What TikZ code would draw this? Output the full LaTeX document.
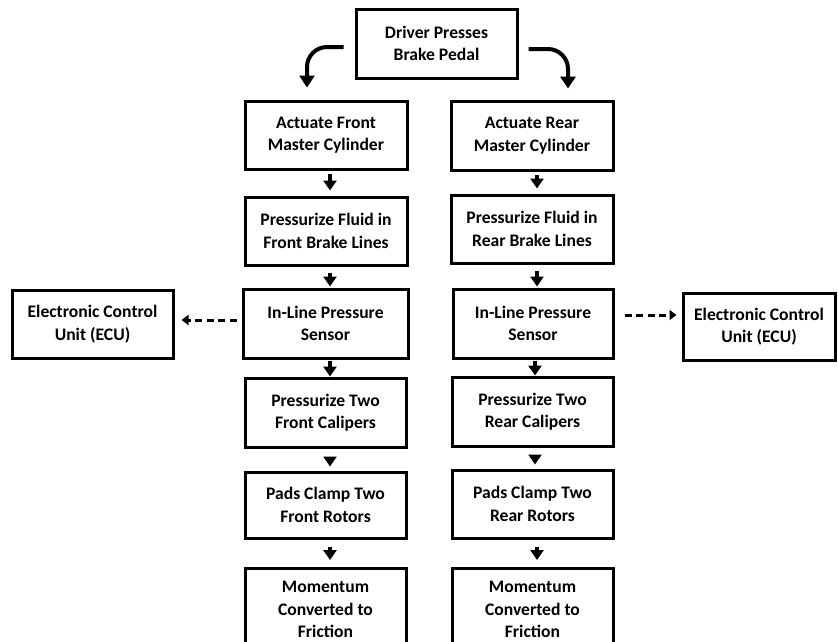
\documentclass[tikz,border=0pt]{standalone}
\usepackage{fontspec}
\setmainfont{Carlito}
\usetikzlibrary{arrows.meta}
\tikzset{
  box/.style={draw, line width=3pt, align=center, inner sep=0pt, font=\bfseries\fontsize{17.6}{22.5}\selectfont},
  varr/.style={line width=3.2pt, -{Triangle[width=13pt,length=10pt]}},
  carr/.style={line width=4pt, rounded corners=20pt, -{Triangle[width=15pt,length=12pt]}},
  darr/.style={line width=3pt, dash pattern=on 7pt off 4.5pt, -{Triangle[width=10pt,length=7pt]}},
}
\begin{document}
\begin{tikzpicture}[x=1pt,y=-1pt]
\path[use as bounding box, clip] (0,0) rectangle (838,641);
\fill[white] (0,0) rectangle (838,641);
% top
\node[box, minimum width=161pt, minimum height=69pt] (top) at (436.5,43.5) {Driver Presses\\Brake Pedal};
% left column
\node[box, minimum width=162pt, minimum height=68pt] (L1) at (326,135) {Actuate Front\\Master Cylinder};
\node[box, minimum width=162pt, minimum height=68pt] (L2) at (326,231) {Pressurize Fluid in\\Front Brake Lines};
\node[box, minimum width=165pt, minimum height=69pt] (L3) at (325.5,323.5) {In-Line Pressure\\Sensor};
\node[box, minimum width=161pt, minimum height=69pt] (L4) at (325.5,412.5) {Pressurize Two\\Front Calipers};
\node[box, minimum width=161pt, minimum height=66pt] (L5) at (325.5,505) {Pads Clamp Two\\Front Rotors};
\node[box, minimum width=161pt, minimum height=82pt, anchor=north] (L6) at (325.5,567) {Momentum\\Converted to\\Friction};
% right column
\node[box, minimum width=162pt, minimum height=69pt] (R1) at (532,135.5) {Actuate Rear\\Master Cylinder};
\node[box, minimum width=162pt, minimum height=68pt] (R2) at (532,229) {Pressurize Fluid in\\Rear Brake Lines};
\node[box, minimum width=160pt, minimum height=69pt] (R3) at (533,323.5) {In-Line Pressure\\Sensor};
\node[box, minimum width=161pt, minimum height=69pt] (R4) at (532.5,411.5) {Pressurize Two\\Rear Calipers};
\node[box, minimum width=161pt, minimum height=68pt] (R5) at (532.5,504) {Pads Clamp Two\\Rear Rotors};
\node[box, minimum width=161pt, minimum height=82pt, anchor=north] (R6) at (532.5,567) {Momentum\\Converted to\\Friction};
% ECUs
\node[box, minimum width=161pt, minimum height=68pt] (ECUL) at (92.5,324) {Electronic Control\\Unit (ECU)};
\node[box, minimum width=152pt, minimum height=67pt] (ECUR) at (759,326.5) {Electronic Control\\Unit (ECU)};
% curved arrows
\draw[carr] ([xshift=-11pt,yshift=-3.5pt]top.west) -| ([xshift=-19pt,yshift=12pt]L1.north);
\draw[carr] ([xshift=10pt,yshift=-5.5pt]top.east) -| ([xshift=36pt,yshift=11pt]R1.north);
% left column arrows
\draw[varr] ([xshift=4pt,yshift=-3pt]L1.south) -- ([xshift=4pt,yshift=5pt]L2.north);
\draw[varr] ([xshift=4pt,yshift=-6pt]L2.south) -- ([xshift=4.5pt,yshift=1pt]L3.north);
\draw[varr] ([xshift=4.5pt,yshift=-1pt]L3.south) -- ([xshift=4.5pt]L4.north);
\draw[varr] ([xshift=4.5pt,yshift=-8pt]L4.south) -- ([xshift=4.5pt,yshift=4pt]L5.north);
\draw[varr] ([xshift=4.5pt,yshift=-7pt]L5.south) -- ([xshift=4.5pt,yshift=7pt]L6.north);
% right column arrows
\draw[varr] ([xshift=5pt,yshift=-3pt]R1.south) -- ([xshift=5pt,yshift=5pt]R2.north);
\draw[varr] ([xshift=5pt,yshift=-6pt]R2.south) -- ([xshift=4pt,yshift=1pt]R3.north);
\draw[varr] ([xshift=2pt,yshift=-1pt]R3.south) -- ([xshift=2.5pt]R4.north);
\draw[varr] ([xshift=2.5pt,yshift=-8pt]R4.south) -- ([xshift=2.5pt,yshift=4pt]R5.north);
\draw[varr] ([xshift=4.5pt,yshift=-7pt]R5.south) -- ([xshift=4.5pt,yshift=7pt]R6.north);
% dashed arrows
\draw[darr] ([xshift=-5pt,yshift=3.5pt]L3.west) -- ([xshift=7pt,yshift=3.5pt]L3.west -| ECUL.east);
\draw[darr] ([xshift=10pt,yshift=8.5pt]R3.east) -- ([xshift=-5pt,yshift=8.5pt]R3.east -| ECUR.west);
\end{tikzpicture}
\end{document}
